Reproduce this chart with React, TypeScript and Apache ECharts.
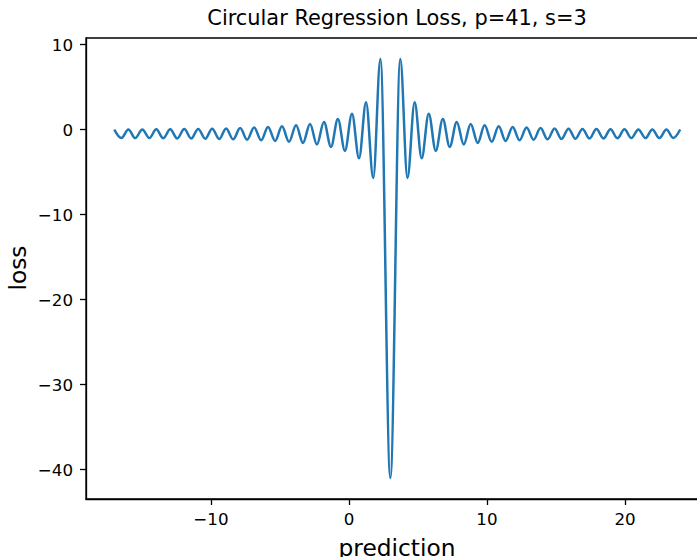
import React, { useEffect, useRef } from "react";
import * as echarts from "echarts";

// Positions (prediction) of each crest/trough of the curve and its loss
const predictions = [
  -17.0, -16.49, -15.98, -15.48, -14.97, -14.46, -13.96, -13.45, -12.95, -12.44,
  -11.93, -11.43, -10.92, -10.41, -9.91, -9.4, -8.9, -8.39, -7.88, -7.38,
  -6.87, -6.36, -5.86, -5.35, -4.85, -4.34, -3.83, -3.33, -2.82, -2.32,
  -1.81, -1.3, -0.8, -0.29, 0.22, 0.73, 1.24, 1.76, 2.28,
  3.0,
  3.72, 4.24, 4.76, 5.27, 5.78, 6.29, 6.8, 7.3, 7.81, 8.32,
  8.82, 9.33, 9.83, 10.34, 10.85, 11.35, 11.86, 12.36, 12.87, 13.38,
  13.88, 14.39, 14.9, 15.4, 15.91, 16.41, 16.92, 17.43, 17.93, 18.44,
  18.95, 19.45, 19.96, 20.46, 20.97, 21.48, 21.98, 22.49, 23.0, 23.5, 24.0,
];
const losses = [
  0.0, -1.0, 0.0, -1.01, 0.01, -1.01, 0.02, -1.03, 0.03, -1.04,
  0.05, -1.06, 0.07, -1.08, 0.1, -1.11, 0.13, -1.15, 0.18, -1.2,
  0.23, -1.26, 0.3, -1.34, 0.38, -1.44, 0.5, -1.57, 0.66, -1.76,
  0.89, -2.04, 1.25, -2.51, 1.87, -3.39, 3.21, -5.71, 8.3,
  -41.0,
  8.3, -5.71, 3.21, -3.39, 1.87, -2.51, 1.25, -2.04, 0.89, -1.76,
  0.66, -1.57, 0.5, -1.44, 0.38, -1.34, 0.3, -1.26, 0.23, -1.2,
  0.18, -1.15, 0.13, -1.11, 0.1, -1.08, 0.07, -1.06, 0.05, -1.04,
  0.03, -1.03, 0.02, -1.01, 0.01, -1.01, 0.0, -1.0, 0.0, -1.0, 0.0,
];

const xTickValues = [-10, 0, 10, 20];
const yTickValues = [-40, -30, -20, -10, 0, 10];
const xExtent = [-19.05, 26.05];
const yExtent = [-43.47, 10.77];

const titleText = "Circular Regression Loss, p=41, s=3";
const xLabelText = "prediction";
const yLabelText = "loss";

const FONT = "DejaVu Sans";

function fmt(v: number): string {
  return v < 0 ? "\u2212" + Math.abs(v) : String(v);
}

export default function App() {
  const ref = useRef<HTMLDivElement>(null);

  useEffect(() => {
    document.body.style.margin = "0";
    document.body.style.overflow = "hidden";
    document.documentElement.style.overflow = "hidden";
    const chart = echarts.init(ref.current!, null, { renderer: "svg" });
    const data = predictions.map((x, i) => [x, losses[i]]);

    chart.setOption({
      animation: false,
      backgroundColor: "#ffffff",
      grid: {
        left: 86,
        top: 38,
        width: 622.5,
        height: 461,
        show: true,
        borderColor: "#000",
        borderWidth: 1.3,
        backgroundColor: "transparent",
        containLabel: false,
      },
      xAxis: {
        type: "value",
        min: xExtent[0],
        max: xExtent[1],
        splitLine: { show: false },
        axisLine: { show: true, onZero: false, lineStyle: { color: "#000", width: 1.3 } },
        axisTick: {
          show: true,
          length: 6,
          customValues: xTickValues,
          lineStyle: { color: "#000", width: 1.3 },
        },
        axisLabel: {
          customValues: xTickValues,
          color: "#000",
          fontFamily: FONT,
          fontSize: 16.7,
          margin: 11,
          formatter: (v: number) => fmt(v),
        },
      },
      yAxis: {
        type: "value",
        min: yExtent[0],
        max: yExtent[1],
        splitLine: { show: false },
        axisLine: { show: true, onZero: false, lineStyle: { color: "#000", width: 1.3 } },
        axisTick: {
          show: true,
          length: 6,
          customValues: yTickValues,
          lineStyle: { color: "#000", width: 1.3 },
        },
        axisLabel: {
          customValues: yTickValues,
          color: "#000",
          fontFamily: FONT,
          fontSize: 16.7,
          margin: 13,
          formatter: (v: number) => fmt(v),
        },
      },
      series: [
        {
          type: "line",
          data,
          smooth: 0.35,
          smoothMonotone: "x",
          showSymbol: false,
          symbol: "none",
          lineStyle: { color: "#1f77b4", width: 2.5 },
          itemStyle: { color: "#1f77b4" },
        },
      ],
      graphic: [
        {
          type: "text",
          x: 397,
          y: 18,
          style: {
            text: titleText,
            font: `20.9px "${FONT}"`,
            fill: "#000",
            textAlign: "center",
            textVerticalAlign: "middle",
          },
        },
        {
          type: "text",
          x: 397,
          y: 547.5,
          style: {
            text: xLabelText,
            font: `23.3px "${FONT}"`,
            fill: "#000",
            textAlign: "center",
            textVerticalAlign: "middle",
          },
        },
        {
          type: "text",
          x: 17.6,
          y: 268,
          rotation: Math.PI / 2,
          style: {
            text: yLabelText,
            font: `23.3px "${FONT}"`,
            fill: "#000",
            textAlign: "center",
            textVerticalAlign: "middle",
          },
        },
      ],
    });

    return () => chart.dispose();
  }, []);

  return <div ref={ref} style={{ width: 720, height: 557 }} />;
}
